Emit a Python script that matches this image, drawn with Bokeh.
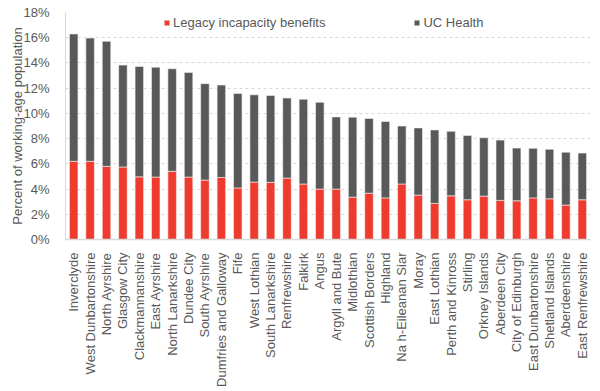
import math
from bokeh.plotting import figure
from bokeh.models import FactorRange, Legend, LegendItem, PrintfTickFormatter, FixedTicker, Range1d, ColumnDataSource
from bokeh.embed import file_html
from bokeh.resources import INLINE

areas = ["Inverclyde", "West Dunbartonshire", "North Ayrshire", "Glasgow City", "Clackmannanshire",
         "East Ayrshire", "North Lanarkshire", "Dundee City", "South Ayrshire", "Dumfries and Galloway",
         "Fife", "West Lothian", "South Lanarkshire", "Renfrewshire", "Falkirk", "Angus",
         "Argyll and Bute", "Midlothian", "Scottish Borders", "Highland", "Na h-Eileanan Siar", "Moray",
         "East Lothian", "Perth and Kinross", "Stirling", "Orkney Islands", "Aberdeen City",
         "City of Edinburgh", "East Dunbartonshire", "Shetland Islands", "Aberdeenshire", "East Renfrewshire"]
legacy = [6.2, 6.2, 5.8, 5.75, 4.97, 4.95, 5.41, 4.95, 4.71, 4.92, 4.09, 4.55, 4.53, 4.87, 4.4, 4.0,
          4.0, 3.36, 3.67, 3.3, 4.4, 3.52, 2.86, 3.46, 3.15, 3.44, 3.1, 3.07, 3.3, 3.23, 2.73, 3.15]
total = [16.3, 15.97, 15.72, 13.83, 13.72, 13.66, 13.54, 13.25, 12.36, 12.25, 11.58, 11.47, 11.42, 11.22,
         11.12, 10.88, 9.72, 9.7, 9.6, 9.36, 9.0, 8.85, 8.69, 8.58, 8.25, 8.07, 7.88, 7.25, 7.23, 7.15, 6.92, 6.85]
uc_health = [t - l for t, l in zip(total, legacy)]

src = ColumnDataSource(dict(x=areas, legacy=legacy, uc=uc_health, total=total))

p = figure(x_range=FactorRange(*areas), y_range=Range1d(0, 18), width=598, height=389,
           output_backend="svg", toolbar_location=None,
           min_border_left=65, min_border_right=8, min_border_top=12, min_border_bottom=147)

RED = "#EE3B2E"
GREY = "#595959"
TXT = "#595959"
r1 = p.vbar(x="x", top="legacy", bottom=0, width=0.52, fill_color=RED, line_color="#F4F4F4",
            line_width=0.6, source=src)
r2 = p.vbar(x="x", top="total", bottom="legacy", width=0.52, fill_color=GREY, line_color="#F4F4F4",
            line_width=0.6, source=src)

p.outline_line_color = None
p.xgrid.grid_line_color = None
p.ygrid.grid_line_color = "#D9D9D9"
p.ygrid.grid_line_dash = "3 3"
p.yaxis.ticker = FixedTicker(ticks=list(range(0, 19, 2)))
p.yaxis.formatter = PrintfTickFormatter(format="%d%%")
p.yaxis.axis_line_color = "#D9D9D9"
p.yaxis.major_tick_line_color = None
p.yaxis.minor_tick_line_color = None
p.yaxis.major_label_text_font = "Liberation Sans"
p.yaxis.major_label_text_font_size = "13px"
p.yaxis.major_label_text_color = TXT
p.yaxis.major_label_standoff = 10
p.yaxis.axis_label = "Percent of working-age population"
p.yaxis.axis_label_text_font = "Liberation Sans"
p.yaxis.axis_label_text_font_size = "13px"
p.yaxis.axis_label_text_font_style = "normal"
p.yaxis.axis_label_text_color = TXT
p.yaxis.axis_label_standoff = -5

p.xaxis.axis_line_color = "#D9D9D9"
p.xaxis.axis_line_width = 1.5
p.xaxis.major_tick_line_color = None
p.xaxis.minor_tick_line_color = None
p.xaxis.major_label_orientation = math.pi / 2
p.xaxis.major_label_text_font = "Liberation Sans"
p.xaxis.major_label_text_font_size = "13px"
p.xaxis.major_label_text_color = TXT
p.xaxis.major_label_standoff = 7

legend = Legend(items=[LegendItem(label="Legacy incapacity benefits", renderers=[r1]),
                       LegendItem(label="UC Health", renderers=[r2])],
                orientation="horizontal", location=(98, 209), spacing=88,
                glyph_width=7, glyph_height=7, label_standoff=3, padding=0, margin=0,
                border_line_alpha=0, background_fill_alpha=0,
                label_text_font="Liberation Sans", label_text_font_size="13px",
                label_text_color=TXT)
p.add_layout(legend)

open("out.html", "w").write(file_html(p, INLINE))
